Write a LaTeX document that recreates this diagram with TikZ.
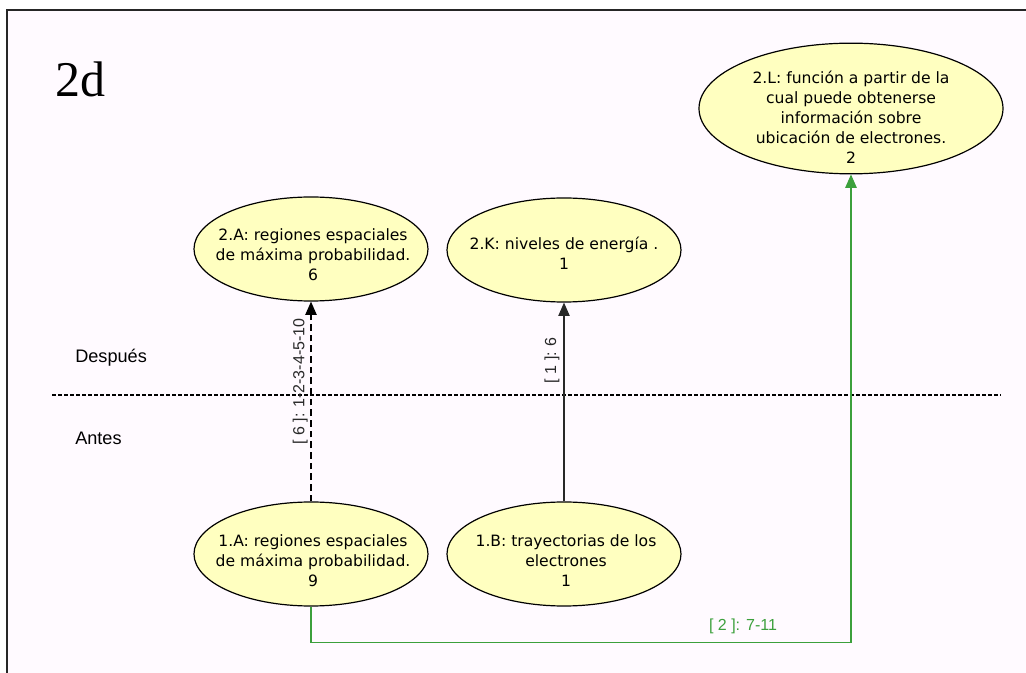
\documentclass[tikz,border=0pt]{standalone}
\usepackage{fontspec}
\setmainfont{DejaVu Sans}
\newfontfamily\arialf{Liberation Sans}
\newfontfamily\timesf{Liberation Serif}
\usetikzlibrary{arrows.meta,shapes.geometric}
\definecolor{bgc}{RGB}{255,250,255}
\definecolor{ellfill}{RGB}{255,255,192}
\definecolor{grn}{RGB}{60,160,60}
\definecolor{lblc}{RGB}{40,40,40}
\begin{document}
\begin{tikzpicture}[x=0.75pt,y=-0.75pt,
  ell/.style={ellipse,draw=black,line width=0.9pt,fill=ellfill,inner sep=0pt,minimum width=175.5pt,minimum height=78pt},
  bigell/.style={ell,minimum width=228pt,minimum height=98pt},
  etext/.style={align=center,inner sep=0pt,font=\fontsize{11.7pt}{15pt}\selectfont},
  side/.style={anchor=west,inner sep=0pt,font=\arialf\fontsize{13.6pt}{16pt}\selectfont},
  elbl/.style={inner sep=0pt,font=\arialf\fontsize{12pt}{14pt}\selectfont,text=lblc},
  tip/.style={-{Triangle[length=10pt,width=8.5pt]}}
]
\useasboundingbox (0,0) rectangle (1026,673);
\fill[white] (0,0) rectangle (1026,673);
\fill[bgc] (7,10) rectangle (1026,673);
\draw[line width=1.6pt,draw=black!85] (7,673) -- (7,10) -- (1026,10);

\node[anchor=base west,inner sep=0pt,font=\timesf\fontsize{37.5pt}{40pt}\selectfont] (title) at (55,97) {2d};

\node[side] (desp) at (75,358) {Después};
\node[side] (ant) at (75,438) {Antes};
\coordinate (dl) at (52,395);
\coordinate (dr) at (1001,395);
\draw[line width=0.8pt,dash pattern=on 3pt off 1.5pt] (dl) -- (dr);

\node[ell] (a2) at (311,249) {};
\node[etext] (a2t) at (313,255) {2.A: regiones espaciales\\de máxima probabilidad.\\6};
\node[ell] (k2) at (564,250) {};
\node[etext] (k2t) at (564,253) {2.K: niveles de energía .\\1};
\node[bigell] (l2) at (851,108.5) {};
\node[etext] (l2t) at (851,117) {2.L: función a partir de la\\cual puede obtenerse\\información sobre\\ubicación de electrones.\\2};
\node[ell] (a1) at (311,554) {};
\node[etext] (a1t) at (313,561) {1.A: regiones espaciales\\de máxima probabilidad.\\9};
\node[ell] (b1) at (564,554) {};
\node[etext] (b1t) at (566,561) {1.B: trayectorias de los\\electrones\\1};

\draw[tip,line width=1.1pt,dash pattern=on 5pt off 3pt] (a1.north) -- (a2.south)
  node[pos=0.6,elbl,rotate=90,above=2pt] (lab6) {[ 6 ]: 1-2-3-4-5-10};
\draw[tip,line width=0.8pt,draw=lblc] (b1.north) -- (k2.south)
  node[pos=0.71,elbl,rotate=90,above=3pt] (lab1) {[ 1 ]: 6};
\coordinate (gc) at (311,642.5);
\draw[line width=1pt,draw=grn,-{Triangle[length=10pt,width=8.5pt,fill=grn]}] (a1.south) -- (gc) -| (l2.south)
  node[pos=0.4,elbl,text=grn,above=6pt] (lab2) {[ 2 ]: 7-11};
\end{tikzpicture}
\end{document}
